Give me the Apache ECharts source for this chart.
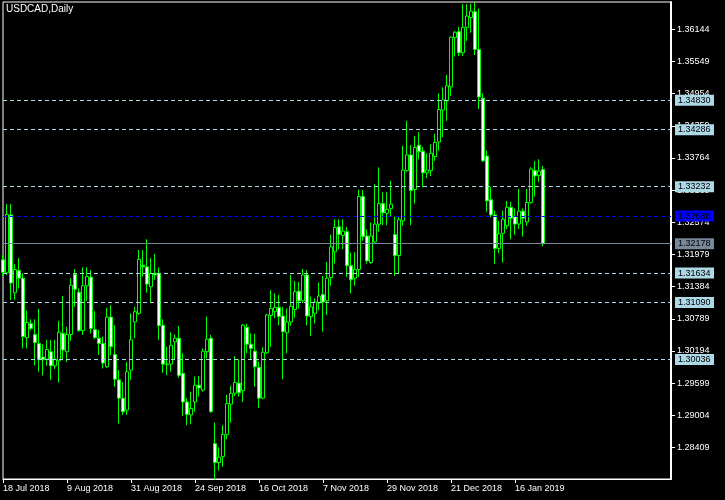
<!DOCTYPE html>
<html><head><meta charset="utf-8">
<script src="https://cdn.jsdelivr.net/npm/echarts@6/dist/echarts.min.js"></script>
<style>html,body{margin:0;padding:0;background:#000}#c{width:725px;height:500px}</style>
</head><body><div id="c"></div>
<script>
const dates = [
"18 Jul 2018","19 Jul 2018","20 Jul 2018","23 Jul 2018","24 Jul 2018","25 Jul 2018","26 Jul 2018","27 Jul 2018","30 Jul 2018","31 Jul 2018",
"1 Aug 2018","2 Aug 2018","3 Aug 2018","6 Aug 2018","7 Aug 2018","8 Aug 2018","9 Aug 2018","10 Aug 2018","13 Aug 2018","14 Aug 2018","15 Aug 2018","16 Aug 2018","17 Aug 2018","20 Aug 2018","21 Aug 2018","22 Aug 2018","23 Aug 2018","24 Aug 2018","27 Aug 2018","28 Aug 2018","29 Aug 2018","30 Aug 2018","31 Aug 2018",
"3 Sep 2018","4 Sep 2018","5 Sep 2018","6 Sep 2018","7 Sep 2018","10 Sep 2018","11 Sep 2018","12 Sep 2018","13 Sep 2018","14 Sep 2018","17 Sep 2018","18 Sep 2018","19 Sep 2018","20 Sep 2018","21 Sep 2018","24 Sep 2018","25 Sep 2018","26 Sep 2018","27 Sep 2018","28 Sep 2018",
"1 Oct 2018","2 Oct 2018","3 Oct 2018","4 Oct 2018","5 Oct 2018","8 Oct 2018","9 Oct 2018","10 Oct 2018","11 Oct 2018","12 Oct 2018","15 Oct 2018","16 Oct 2018","17 Oct 2018","18 Oct 2018","19 Oct 2018","22 Oct 2018","23 Oct 2018","24 Oct 2018","25 Oct 2018","26 Oct 2018","29 Oct 2018","30 Oct 2018","31 Oct 2018",
"1 Nov 2018","2 Nov 2018","5 Nov 2018","6 Nov 2018","7 Nov 2018","8 Nov 2018","9 Nov 2018","12 Nov 2018","13 Nov 2018","14 Nov 2018","15 Nov 2018","16 Nov 2018","19 Nov 2018","20 Nov 2018","21 Nov 2018","22 Nov 2018","23 Nov 2018","26 Nov 2018","27 Nov 2018","28 Nov 2018","29 Nov 2018","30 Nov 2018",
"3 Dec 2018","4 Dec 2018","5 Dec 2018","6 Dec 2018","7 Dec 2018","10 Dec 2018","11 Dec 2018","12 Dec 2018","13 Dec 2018","14 Dec 2018","17 Dec 2018","18 Dec 2018","19 Dec 2018","20 Dec 2018","21 Dec 2018","24 Dec 2018","26 Dec 2018","27 Dec 2018","28 Dec 2018","31 Dec 2018",
"2 Jan 2019","3 Jan 2019","4 Jan 2019","7 Jan 2019","8 Jan 2019","9 Jan 2019","10 Jan 2019","11 Jan 2019","14 Jan 2019","15 Jan 2019","16 Jan 2019","17 Jan 2019","18 Jan 2019","21 Jan 2019","22 Jan 2019","23 Jan 2019","24 Jan 2019","25 Jan 2019"
];
const openVals = [
1.3188,1.3164,1.3271,1.3127,1.3168,1.3154,1.3044,1.3070,1.3050,1.3033,
1.3008,1.3004,1.3018,1.2992,1.3001,1.3052,1.3018,1.3050,1.3161,1.3128,
1.3057,1.3140,1.3156,1.3059,1.3043,1.3033,1.2990,1.3082,1.3013,1.2966,
1.2932,1.2910,1.2984,1.3073,1.3089,1.3178,1.3175,1.3138,1.3163,1.3163,
1.3067,1.2995,1.2995,1.3036,1.3043,1.2978,1.2925,1.2901,1.2925,1.2956,
1.2947,1.3018,1.3043,1.2848,1.2813,1.2824,1.2865,1.2921,1.2941,1.2960,
1.2946,1.3063,1.3032,1.3019,1.2989,1.2932,1.3016,1.3085,1.3092,1.3100,
1.3084,1.3053,1.3073,1.3096,1.3130,1.3112,1.3160,1.3083,1.3089,1.3108,
1.3124,1.3112,1.3155,1.3203,1.3249,1.3233,1.3240,1.3177,1.3154,1.3170,
1.3305,1.3232,1.3183,1.3221,1.3254,1.3292,1.3274,1.3283,1.3235,1.3196,
1.3260,1.3353,1.3382,1.3318,1.3400,1.3389,1.3349,1.3353,1.3379,1.3406,
1.3465,1.3482,1.3508,1.3599,1.3610,1.3571,1.3618,1.3636,1.3647,1.3577,
1.3487,1.3380,1.3299,1.3271,1.3209,1.3237,1.3251,1.3285,1.3268,1.3254,
1.3278,1.3258,1.3294,1.3353,1.3344,1.3355
];
const highVals = [
1.3197,1.3291,1.3291,1.3180,1.3191,1.3163,1.3094,1.3078,1.3078,1.3097,
1.3032,1.3040,1.3040,1.3040,1.3075,1.3121,1.3064,1.3154,1.3171,1.3135,
1.3174,1.3174,1.3169,1.3093,1.3058,1.3046,1.3099,1.3104,1.3067,1.2984,
1.2962,1.2999,1.3089,1.3101,1.3206,1.3206,1.3226,1.3191,1.3199,1.3174,
1.3078,1.3027,1.3054,1.3050,1.3066,1.3015,1.2932,1.2944,1.2972,1.2973,
1.3024,1.3083,1.3049,1.2887,1.2841,1.2882,1.2938,1.2955,1.3010,1.3004,
1.3069,1.3070,1.3052,1.3051,1.2999,1.3026,1.3088,1.3132,1.3126,1.3123,
1.3101,1.3098,1.3160,1.3149,1.3147,1.3171,1.3169,1.3120,1.3117,1.3146,
1.3158,1.3184,1.3234,1.3263,1.3263,1.3263,1.3249,1.3201,1.3202,1.3318,
1.3317,1.3244,1.3257,1.3328,1.3359,1.3313,1.3313,1.3334,1.3268,1.3268,
1.3399,1.3445,1.3400,1.3417,1.3424,1.3397,1.3385,1.3402,1.3421,1.3496,
1.3507,1.3530,1.3601,1.3611,1.3619,1.3661,1.3661,1.3662,1.3664,1.3653,
1.3496,1.3390,1.3323,1.3279,1.3260,1.3279,1.3297,1.3295,1.3283,1.3319,
1.3283,1.3319,1.3359,1.3371,1.3374,1.3362
];
const lowVals = [
1.3158,1.3160,1.3114,1.3114,1.3135,1.3024,1.3024,1.3058,1.2993,1.2981,
1.2974,1.2992,1.2966,1.2986,1.2961,1.3003,1.2999,1.3038,1.3101,1.3055,
1.3049,1.3112,1.3052,1.3041,1.3012,1.2987,1.2988,1.3011,1.2953,1.2885,
1.2901,1.2901,1.2966,1.3043,1.3086,1.3157,1.3127,1.3108,1.3151,1.3040,
1.2979,1.2975,1.2981,1.3003,1.2970,1.2899,1.2882,1.2884,1.2907,1.2935,
1.2944,1.3006,1.2905,1.2782,1.2798,1.2805,1.2856,1.2887,1.2936,1.2935,
1.2925,1.3015,1.3003,1.2953,1.2914,1.2930,1.3014,1.3027,1.3080,1.3067,
1.2967,1.3015,1.3066,1.3081,1.3098,1.3108,1.3067,1.3047,1.3070,1.3095,
1.3055,1.3086,1.3140,1.3181,1.3207,1.3208,1.3156,1.3126,1.3140,1.3156,
1.3223,1.3181,1.3180,1.3219,1.3240,1.3252,1.3252,1.3269,1.3158,1.3163,
1.3251,1.3351,1.3252,1.3292,1.3374,1.3322,1.3339,1.3343,1.3371,1.3390,
1.3415,1.3445,1.3491,1.3564,1.3565,1.3565,1.3593,1.3608,1.3567,1.3467,
1.3369,1.3277,1.3267,1.3180,1.3200,1.3183,1.3245,1.3226,1.3234,1.3245,
1.3231,1.3251,1.3292,1.3305,1.3332,1.3213
];
const closeVals = [
1.3165,1.3272,1.3145,1.3170,1.3154,1.3046,1.3072,1.3061,1.3035,1.3004,
1.3003,1.3022,1.2992,1.3004,1.3054,1.3021,1.3050,1.3141,1.3133,1.3057,
1.3140,1.3157,1.3061,1.3044,1.3033,1.2997,1.3082,1.3027,1.2967,1.2932,
1.2907,1.2981,1.3040,1.3092,1.3189,1.3175,1.3143,1.3163,1.3160,1.3066,
1.2995,1.2994,1.3030,1.3043,1.2974,1.2925,1.2902,1.2913,1.2956,1.2951,
1.3019,1.3041,1.2907,1.2813,1.2823,1.2865,1.2922,1.2941,1.2961,1.2942,
1.3067,1.3032,1.3024,1.2990,1.2932,1.3017,1.3086,1.3098,1.3100,1.3083,
1.3055,1.3073,1.3102,1.3129,1.3112,1.3160,1.3084,1.3101,1.3110,1.3121,
1.3110,1.3154,1.3212,1.3248,1.3235,1.3241,1.3177,1.3151,1.3170,1.3305,
1.3231,1.3186,1.3232,1.3254,1.3292,1.3275,1.3281,1.3291,1.3196,1.3262,
1.3354,1.3382,1.3316,1.3396,1.3388,1.3349,1.3354,1.3385,1.3405,1.3466,
1.3484,1.3510,1.3600,1.3609,1.3571,1.3618,1.3639,1.3648,1.3577,1.3489,
1.3371,1.3297,1.3271,1.3209,1.3236,1.3263,1.3285,1.3265,1.3254,1.3278,
1.3265,1.3294,1.3356,1.3343,1.3352,1.32178
];
const priceTicks = [1.28409,1.29004,1.29599,1.30194,1.30789,1.31384,1.31979,1.32574,1.33169,1.33764,1.34359,1.34954,1.35549,1.36144];
const levelPrices = [1.34830,1.34286,1.33232,1.31634,1.31090,1.30036];
const bluePrice = 1.32688;
const bidPrice = 1.32178;
const labelStep = 16;
const emptySlots = 32;
const axisMin = 1.27825, axisMax = 1.36649;

const FONT = 'Liberation Sans';
const cats = dates.concat(new Array(emptySlots).fill(''));
const ohlc = openVals.map((o, i) => [o, closeVals[i], lowVals[i], highVals[i]]);
const showIdx = (i) => i % labelStep === 0 && i < dates.length;

function lvl(v, color, textColor, type) {
  return {
    yAxis: v,
    lineStyle: { color: color, type: type, width: 1 },
    label: {
      show: true, position: 'end', distance: 4,
      formatter: () => v.toFixed(5),
      color: textColor, backgroundColor: color,
      fontFamily: FONT, fontSize: 9,
      padding: [1, 3, 1, 3], width: 33
    }
  };
}
const markData = levelPrices.map(v => lvl(v, '#add8e6', '#000', [4, 3]))
  .concat([lvl(bluePrice, '#0000ff', '#000', [4, 3]), lvl(bidPrice, '#778899', '#000', 'solid')]);

const chart = echarts.init(document.getElementById('c'), null, { renderer: 'canvas' });
chart.setOption({
  animation: false,
  backgroundColor: '#000',
  title: { text: 'USDCAD,Daily', left: 6, top: 4, padding: 0,
    textStyle: { color: '#fff', fontSize: 10, fontWeight: 'normal', fontFamily: FONT } },
  grid: { left: 3, right: 54, top: 2, bottom: 21, show: true, borderColor: '#fff', borderWidth: 1, backgroundColor: '#000' },
  xAxis: {
    type: 'category', data: cats, boundaryGap: false,
    axisLine: { show: true, lineStyle: { color: '#fff', width: 1 } },
    axisTick: { show: true, interval: showIdx, length: 4, lineStyle: { color: '#fff' } },
    axisLabel: { interval: showIdx, color: '#fff', fontSize: 9, fontFamily: FONT, align: 'left', margin: 5 },
    splitLine: { show: false }
  },
  yAxis: {
    type: 'value', position: 'right', min: axisMin, max: axisMax, scale: true,
    splitLine: { show: false },
    axisLine: { show: true, lineStyle: { color: '#fff', width: 2 } },
    axisTick: { show: true, length: 4, lineStyle: { color: '#fff' }, customValues: priceTicks },
    axisLabel: { color: '#fff', fontSize: 9, fontFamily: FONT, margin: 6, customValues: priceTicks,
      formatter: v => v.toFixed(5) }
  },
  series: [{
    type: 'candlestick',
    data: ohlc,
    barWidth: 3,
    itemStyle: { color: '#000', color0: '#fff', borderColor: '#00ff00', borderColor0: '#00ff00', borderWidth: 1 },
    markLine: { silent: true, symbol: 'none', precision: 5, data: markData, animation: false }
  }]
});
</script></body></html>
